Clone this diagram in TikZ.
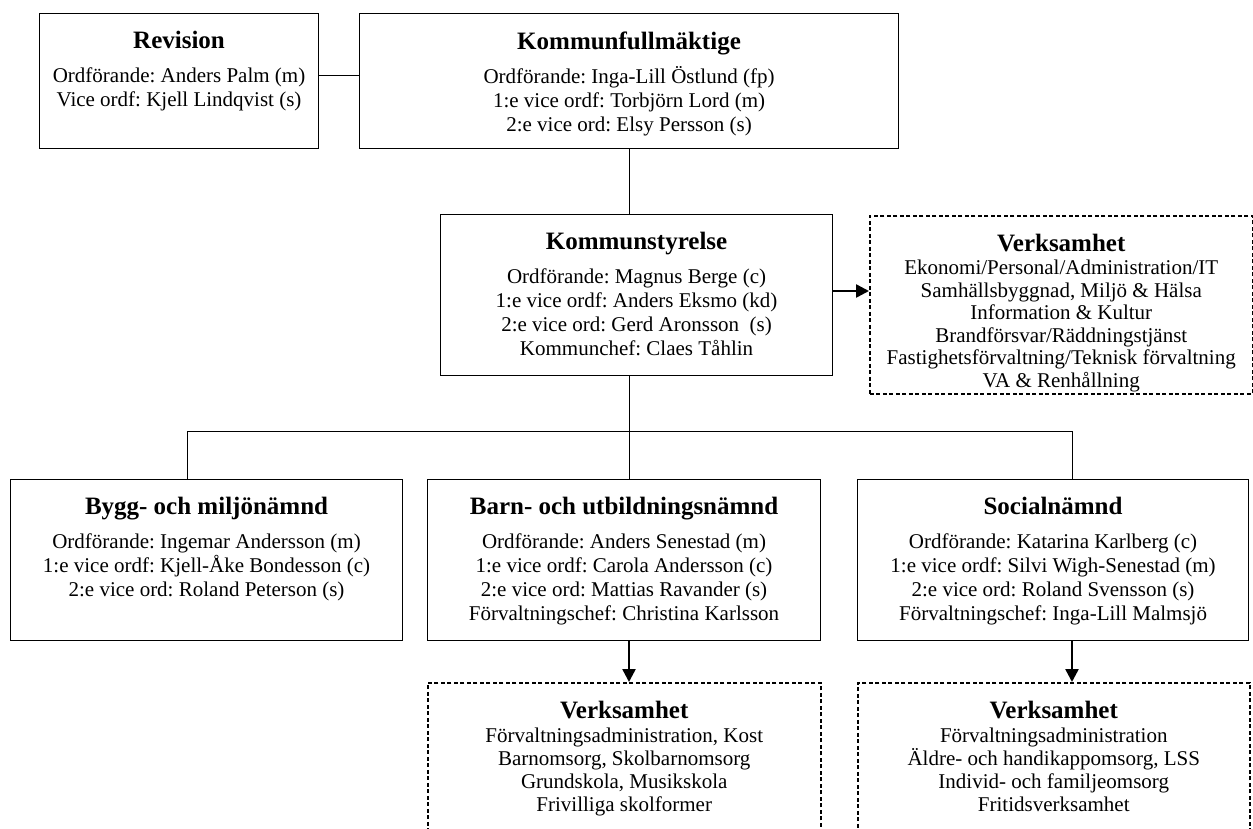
\documentclass[tikz,border=0pt]{standalone}
\usepackage{fontspec}
\setmainfont{Liberation Serif}
\usetikzlibrary{arrows.meta}
\frenchspacing

\newcommand{\titlefont}{\fontsize{25pt}{28pt}\selectfont\bfseries}
\newcommand{\bodyfont}{\fontsize{21pt}{24pt}\selectfont}
\newcommand{\chairtext}[4]{\parbox[c][#2][t]{#1}{\centering\vspace*{18pt}{\titlefont #3\par}\vspace{10pt}{\bodyfont #4\par}}}
\newcommand{\verktext}[4]{\parbox[c][#2][t]{#1}{\centering\vspace*{18pt}{\titlefont Verksamhet\par}\vspace{1pt}{\bodyfont\baselineskip=#3 #4\par}}}

\tikzset{
  orgbox/.style={draw=black, line width=1.1pt},
  verkbox/.style={draw=black, line width=1.5pt, dash pattern=on 4pt off 2.5pt},
  link/.style={draw=black, line width=0.9pt},
  feed/.style={draw=black, line width=2.5pt, -{Triangle[length=13pt,width=13pt]}}
}

\begin{document}
\begin{tikzpicture}[x=1pt,y=-1pt]
\tikzstyle{every node}+=[inner sep=0pt, anchor=north west]
\clip (0,0) rectangle (1253,828);
\node[orgbox] (rev) at (39,13) {\chairtext{279pt}{135pt}{Revision}{Ordförande: Anders Palm (m)\\Vice ordf: Kjell Lindqvist (s)}};
\node[orgbox] (kf) at (359,13) {\chairtext{539pt}{135pt}{Kommunfullmäktige}{Ordförande: Inga-Lill Östlund (fp)\\1:e vice ordf: Torbjörn Lord (m)\\2:e vice ord: Elsy Persson (s)}};
\node[orgbox] (ks) at (440,214) {\chairtext{392pt}{161pt}{Kommunstyrelse}{Ordförande: Magnus Berge (c)\\1:e vice ordf: Anders Eksmo (kd)\\2:e vice ord: Gerd Aronsson~ (s)\\Kommunchef: Claes Tåhlin}};
\node[verkbox] (verkks) at (869,215) {\verktext{383pt}{178pt}{22.5pt}{Ekonomi/Personal/Administration/IT\\Samhällsbyggnad, Miljö \& Hälsa\\Information \& Kultur\\Brandförsvar/Räddningstjänst\\Fastighetsförvaltning/Teknisk förvaltning\\VA \& Renhållning}};
\node[orgbox] (bygg) at (10,479) {\chairtext{392pt}{161pt}{Bygg- och miljönämnd}{Ordförande: Ingemar Andersson (m)\\1:e vice ordf: Kjell-Åke Bondesson (c)\\2:e vice ord: Roland Peterson (s)}};
\node[orgbox] (barn) at (427,479) {\chairtext{393pt}{161pt}{Barn- och utbildningsnämnd}{Ordförande: Anders Senestad (m)\\1:e vice ordf: Carola Andersson (c)\\2:e vice ord: Mattias Ravander (s)\\Förvaltningschef: Christina Karlsson}};
\node[orgbox] (soc) at (857,479) {\chairtext{391pt}{161pt}{Socialnämnd}{Ordförande: Katarina Karlberg (c)\\1:e vice ordf: Silvi Wigh-Senestad (m)\\2:e vice ord: Roland Svensson (s)\\Förvaltningschef: Inga-Lill Malmsjö}};
\node[verkbox] (verkbarn) at (427,682) {\verktext{393pt}{180pt}{23pt}{Förvaltningsadministration, Kost\\Barnomsorg, Skolbarnomsorg\\Grundskola, Musikskola\\Frivilliga skolformer}};
\node[verkbox] (verksoc) at (857,682) {\verktext{392pt}{180pt}{23pt}{Förvaltningsadministration\\Äldre- och handikappomsorg, LSS\\Individ- och familjeomsorg\\Fritidsverksamhet}};
\coordinate (revlink) at (0,75);
\coordinate (kfdrop) at (629,431);
\coordinate (byggdrop) at (187,431);
\coordinate (socdrop) at (1072,431);
\coordinate (ksarrow) at (0,291);
\draw[link] (rev.east |- revlink) -- (kf.west |- revlink);
\draw[link] (kf.south -| kfdrop) -- (ks.north -| kfdrop);
\draw[link] (ks.south -| kfdrop) -- (kfdrop);
\draw[link] (bygg.north -| byggdrop) -- (byggdrop) -- (socdrop) -- (soc.north -| socdrop);
\draw[link] (kfdrop) -- (barn.north -| kfdrop);
\draw[feed] (ks.east |- ksarrow) -- (verkks.west |- ksarrow);
\draw[feed] (barn.south -| kfdrop) -- (verkbarn.north -| kfdrop);
\draw[feed] (soc.south -| socdrop) -- (verksoc.north -| socdrop);
\end{tikzpicture}
\end{document}
